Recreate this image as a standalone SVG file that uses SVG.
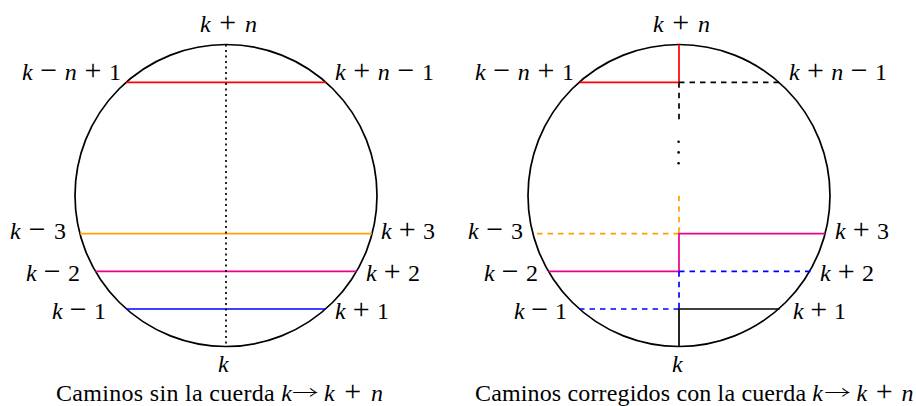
<svg xmlns="http://www.w3.org/2000/svg" width="916" height="406" viewBox="0 0 916 406">
<style>
  .circ { fill: none; stroke: #000; stroke-width: 1.7; }
  .ln { fill: none; stroke-width: 1.7; stroke-linecap: butt; }
  .dash { stroke-dasharray: 5.5 5; }
  .dot { stroke-dasharray: 2 3.5; }
  .red { stroke: #ff0000; }
  .org { stroke: #ffa000; }
  .pnk { stroke: #ec008c; }
  .blu { stroke: #0000ff; }
  .blk { stroke: #000000; }
  .t { font-family: 'Liberation Serif', 'DejaVu Serif', serif; font-size: 24px; fill: #000; }
  .i { font-style: italic; }
  .op { font-size: 30px; }
  .ar { font-family: 'Noto Sans CJK JP', 'DejaVu Sans', sans-serif; font-size: 24px; font-weight: 300; fill: #000; }
</style>

<g id="left-diagram">
  <circle id="left-circle" class="circ" cx="226" cy="195.5" r="151"/>
  <g id="left-connectors">
    <line class="ln red" x1="126" y1="82.3" x2="326" y2="82.3"/>
    <line class="ln org" x1="80" y1="233.7" x2="372" y2="233.7"/>
    <line class="ln pnk" x1="95.4" y1="271.3" x2="356.6" y2="271.3"/>
    <line class="ln blu" x1="126" y1="309" x2="326" y2="309"/>
    <line class="ln blk dot" x1="226" y1="44.5" x2="226" y2="346.5"/>
  </g>
  <g id="left-labels">
    <text class="t" x="200" y="31.5" textLength="57" lengthAdjust="spacing"><tspan class="i">k</tspan> <tspan class="op">+</tspan> <tspan class="i">n</tspan></text>
    <text class="t" x="22" y="80" textLength="99" lengthAdjust="spacing"><tspan class="i">k</tspan> <tspan class="op">−</tspan> <tspan class="i">n</tspan> <tspan class="op">+</tspan> 1</text>
    <text class="t" x="335" y="80" textLength="99" lengthAdjust="spacing"><tspan class="i">k</tspan> <tspan class="op">+</tspan> <tspan class="i">n</tspan> <tspan class="op">−</tspan> 1</text>
    <text class="t" x="10" y="239" textLength="56" lengthAdjust="spacing"><tspan class="i">k</tspan> <tspan class="op">−</tspan> 3</text>
    <text class="t" x="381" y="239" textLength="54" lengthAdjust="spacing"><tspan class="i">k</tspan> <tspan class="op">+</tspan> 3</text>
    <text class="t" x="26" y="281" textLength="54" lengthAdjust="spacing"><tspan class="i">k</tspan> <tspan class="op">−</tspan> 2</text>
    <text class="t" x="366" y="281" textLength="54" lengthAdjust="spacing"><tspan class="i">k</tspan> <tspan class="op">+</tspan> 2</text>
    <text class="t" x="52" y="319" textLength="54" lengthAdjust="spacing"><tspan class="i">k</tspan> <tspan class="op">−</tspan> 1</text>
    <text class="t" x="335" y="319" textLength="54" lengthAdjust="spacing"><tspan class="i">k</tspan> <tspan class="op">+</tspan> 1</text>
    <text class="t i" x="218" y="371.5">k</text>
  </g>
  <g id="left-caption">
    <text class="t" x="56" y="401" textLength="236" lengthAdjust="spacing">Caminos sin la cuerda <tspan class="i">k</tspan></text>
    <text class="ar" transform="translate(292,399) scale(1.1,0.75)">→</text>
    <text class="t" x="324" y="401" textLength="59" lengthAdjust="spacing"><tspan class="i">k</tspan> <tspan class="op">+</tspan> <tspan class="i">n</tspan></text>
  </g>
</g>

<g id="right-diagram">
  <circle id="right-circle" class="circ" cx="679" cy="195.5" r="151"/>
  <g id="right-connectors">
    <path class="ln red" d="M579.7,82.3 H679 V44.5"/>
    <path class="ln blk dash" d="M679,82.3 H779.7"/>
    <path class="ln blk dash" d="M679,82.3 V120"/>
    <circle cx="678.6" cy="141.7" r="1.3" fill="#000"/>
    <circle cx="678.6" cy="152.4" r="1.3" fill="#000"/>
    <circle cx="678.6" cy="163.2" r="1.3" fill="#000"/>
    <path class="ln org dash" d="M679,195.7 V233.7"/>
    <path class="ln org dash" d="M679,233.7 H533"/>
    <path class="ln pnk" d="M825,233.7 H679 V271.3 H548.4"/>
    <path class="ln blu dash" d="M679,271.3 H810.6"/>
    <path class="ln blu dash" d="M679,271.3 V309"/>
    <path class="ln blu dash" d="M679,309 H579.6"/>
    <path class="ln blk" d="M779.6,309 H679 V346.5"/>
  </g>
  <g id="right-labels">
    <text class="t" x="653" y="31.5" textLength="57" lengthAdjust="spacing"><tspan class="i">k</tspan> <tspan class="op">+</tspan> <tspan class="i">n</tspan></text>
    <text class="t" x="475" y="80" textLength="99" lengthAdjust="spacing"><tspan class="i">k</tspan> <tspan class="op">−</tspan> <tspan class="i">n</tspan> <tspan class="op">+</tspan> 1</text>
    <text class="t" x="789" y="80" textLength="98" lengthAdjust="spacing"><tspan class="i">k</tspan> <tspan class="op">+</tspan> <tspan class="i">n</tspan> <tspan class="op">−</tspan> 1</text>
    <text class="t" x="468" y="239" textLength="55" lengthAdjust="spacing"><tspan class="i">k</tspan> <tspan class="op">−</tspan> 3</text>
    <text class="t" x="835" y="239" textLength="54" lengthAdjust="spacing"><tspan class="i">k</tspan> <tspan class="op">+</tspan> 3</text>
    <text class="t" x="484" y="281" textLength="54" lengthAdjust="spacing"><tspan class="i">k</tspan> <tspan class="op">−</tspan> 2</text>
    <text class="t" x="820" y="281" textLength="54" lengthAdjust="spacing"><tspan class="i">k</tspan> <tspan class="op">+</tspan> 2</text>
    <text class="t" x="514" y="318.5" textLength="53" lengthAdjust="spacing"><tspan class="i">k</tspan> <tspan class="op">−</tspan> 1</text>
    <text class="t" x="793" y="318.5" textLength="53" lengthAdjust="spacing"><tspan class="i">k</tspan> <tspan class="op">+</tspan> 1</text>
    <text class="t i" x="672" y="371.5">k</text>
  </g>
  <g id="right-caption">
    <text class="t" x="475" y="401" textLength="348" lengthAdjust="spacing">Caminos corregidos con la cuerda <tspan class="i">k</tspan></text>
    <text class="ar" transform="translate(824.3,399) scale(1.1,0.75)">→</text>
    <text class="t" x="856.5" y="401" textLength="57" lengthAdjust="spacing"><tspan class="i">k</tspan> <tspan class="op">+</tspan> <tspan class="i">n</tspan></text>
  </g>
</g>
</svg>
